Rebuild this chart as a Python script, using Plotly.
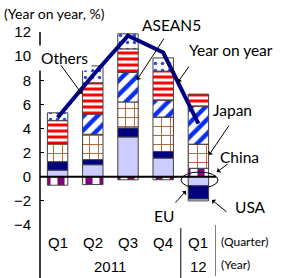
import plotly.graph_objects as go

# ---------------- data ----------------
quarters = ["Q1", "Q2", "Q3", "Q4", "Q1"]
year_labels = ["2011", "12"]
x_pos = [0, 1, 2, 3, 4]

usa = [-0.7, -0.65, -0.25, -0.25, 0.7]
china = [0.55, 1.0, 3.3, 1.55, -0.75]
eu = [0.7, 0.42, 0.75, 0.55, -1.1]
japan = [1.5, 2.1, 2.15, 2.85, 2.0]
asean5 = [0.0, 1.67, 2.45, 1.4, 3.15]
others = [1.9, 2.6, 1.95, 2.4, 1.0]
other_asia = [0.65, 1.4, 1.25, 1.1, -0.15]
year_on_year = [4.9, 8.4, 11.7, 10.3, 4.4]

y_ticks = [-4, -2, 0, 2, 4, 6, 8, 10, 12]

# ---------------- layout geometry ----------------
W, H = 284, 278
ML, MR, MT, MB = 40, 68, 32, 53
PW, PH = W - ML - MR, H - MT - MB


def px(x):
    return (x - ML) / PW


def py(y):
    return (H - MB - y) / PH


TXT = "Lato, 'Open Sans', sans-serif"
NUM = "'Liberation Sans Narrow', 'Liberation Sans', sans-serif"

fig = go.Figure()

series = [
    ("USA", usa, dict(shape="|", fgcolor="#800080", bgcolor="white", size=14, solidity=0.5), "white"),
    ("China", china, None, "#CCCCFF"),
    ("EU", eu, None, "#000080"),
    ("Japan", japan, dict(shape="+", fgcolor="#B5602C", bgcolor="white", size=9, solidity=0.2), "white"),
    ("ASEAN5", asean5, dict(shape="/", fgcolor="#0A2EF0", bgcolor="white", size=10, solidity=0.45), "white"),
    ("Others", others, dict(shape="-", fgcolor="#FF0000", bgcolor="white", size=6, solidity=0.5), "white"),
    ("Other Asia", other_asia, dict(shape=".", fgcolor="#2E4DE8", bgcolor="white", size=7, solidity=0.2), "white"),
]

for name, vals, pat, col in series:
    marker = dict(color=col, line=dict(color="#404040", width=1))
    if pat:
        marker["pattern"] = dict(fillmode="replace", **pat)
    fig.add_trace(go.Bar(x=x_pos, y=vals, name=name, marker=marker))

fig.add_trace(go.Scatter(x=x_pos, y=year_on_year, mode="lines", name="Year on year",
                         line=dict(color="#000080", width=4)))

fig.update_layout(
    width=W, height=H, margin=dict(l=ML, r=MR, t=MT, b=MB, pad=0),
    paper_bgcolor="white", plot_bgcolor="white",
    barmode="relative", bargap=0.42, showlegend=False,
    font=dict(family=NUM, size=15, color="black"),
)
fig.update_xaxes(range=[-0.5, 4.5], showticklabels=False, showgrid=False, zeroline=False,
                 showline=False, ticks="", fixedrange=True)
fig.update_yaxes(range=[-4, 12], tickvals=y_ticks, showgrid=False, zeroline=False,
                 showline=False, ticks="inside", ticklen=4, tickcolor="black",
                 tickfont=dict(family=NUM, size=15), ticklabelstandoff=8, fixedrange=True)

shapes = []
# y axis line extending into category label area
shapes.append(dict(type="line", xref="paper", yref="paper", x0=0, x1=0, y0=py(278), y1=1,
                   line=dict(color="black", width=1.5)))
# zero line
shapes.append(dict(type="line", xref="paper", yref="y", x0=0, x1=1, y0=0, y1=0,
                   line=dict(color="black", width=2)))
# separators in category area
shapes.append(dict(type="line", xref="x", yref="paper", x0=3.5, x1=3.5, y0=py(278), y1=py(228),
                   line=dict(color="black", width=1)))
shapes.append(dict(type="line", xref="x", yref="paper", x0=4.5, x1=4.5, y0=py(276), y1=py(225),
                   line=dict(color="black", width=1)))
# ellipse around zero at last bar
shapes.append(dict(type="circle", xref="paper", yref="paper", x0=px(181), x1=px(218),
                   y0=py(188), y1=py(172), line=dict(color="black", width=1)))
fig.update_layout(shapes=shapes)

ann = []
# title
ann.append(dict(text="(Year on year, %)", xref="paper", yref="paper", x=px(2), y=py(14),
                xanchor="left", yanchor="middle", showarrow=False, font=dict(family=TXT, size=14)))
# category labels
for i, q in enumerate(quarters):
    ann.append(dict(text=q, xref="x", yref="paper", x=x_pos[i], y=py(243), xanchor="center",
                    yanchor="middle", showarrow=False, font=dict(family=NUM, size=15)))
ann.append(dict(text=year_labels[0], xref="x", yref="paper", x=1.5, y=py(266), xanchor="center",
                yanchor="middle", showarrow=False, font=dict(family=NUM, size=15)))
ann.append(dict(text=year_labels[1], xref="x", yref="paper", x=4, y=py(266), xanchor="center",
                yanchor="middle", showarrow=False, font=dict(family=NUM, size=15)))
ann.append(dict(text="(Quarter)", xref="paper", yref="paper", x=px(219), y=py(241), xanchor="left",
                yanchor="middle", showarrow=False, font=dict(family=TXT, size=12)))
ann.append(dict(text="(Year)", xref="paper", yref="paper", x=px(219), y=py(264), xanchor="left",
                yanchor="middle", showarrow=False, font=dict(family=TXT, size=12)))

# series labels
labels = [
    ("Others", 37, 58, True),
    ("ASEAN5", 140, 25, False),
    ("Year on year", 187, 50, False),
    ("Japan", 211, 110, False),
    ("China", 218, 157, False),
    ("EU", 152, 216, False),
    ("USA", 233, 207, False),
]
for t, x, y, bg in labels:
    d = dict(text=t, xref="paper", yref="paper", x=px(x), y=py(y), xanchor="left", yanchor="middle",
             showarrow=False, font=dict(family=TXT, size=15.5))
    if bg:
        d["bgcolor"] = "white"
        d["borderpad"] = 3
    ann.append(d)

# arrows: (tail_x, tail_y, head_x, head_y) in pixels
arrows = [
    (60, 64, 82, 94),
    (165, 37, 137, 80),
    (190, 65, 178, 82),
    (230, 124, 209, 155),
    (229, 163, 217, 172),
    (174, 204, 186, 191),
    (228, 213, 212, 200),
]
for tx, ty, hx, hy in arrows:
    ann.append(dict(text="", xref="paper", yref="paper", x=px(hx), y=py(hy), ax=tx - hx, ay=ty - hy,
                    showarrow=True, arrowhead=1, arrowsize=1, arrowwidth=1, arrowcolor="black",
                    standoff=0, startstandoff=0))
fig.update_layout(annotations=ann)

fig.write_html("out.html", config={"displayModeBar": False, "staticPlot": True},
               post_script="document.body.style.margin='0';")
